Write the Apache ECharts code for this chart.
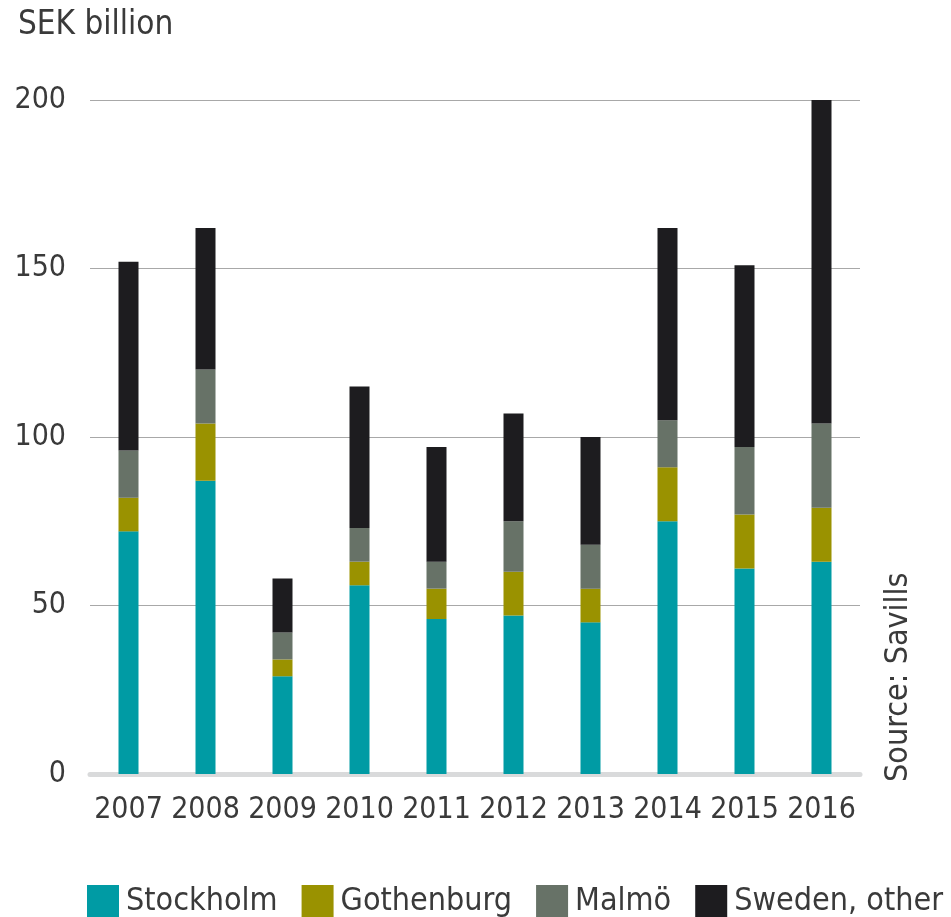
<!DOCTYPE html>
<html>
<head>
<meta charset="utf-8">
<script src="https://cdn.jsdelivr.net/npm/echarts@6/dist/echarts.min.js"></script>
<style>html,body{margin:0;padding:0;background:#fff}#c{width:951px;height:917px}</style>
</head>
<body>
<div id="c"></div>
<script>
const years = ['2007','2008','2009','2010','2011','2012','2013','2014','2015','2016'];
const stockholm = [72, 87, 29, 56, 46, 47, 45, 75, 61, 63];
const gothenburg = [10, 17, 5, 7, 9, 13, 10, 16, 16, 16];
const malmo = [14, 16, 8, 10, 8, 15, 13, 14, 20, 25];
const swedenOther = [56, 42, 16, 42, 34, 32, 32, 57, 54, 96];
const yTicks = [0, 50, 100, 150, 200];

const FONT = '"DejaVu Sans Condensed", "DejaVu Sans", sans-serif';
const TXT = '#3a3a3a';

const chart = echarts.init(document.getElementById('c'), null, {renderer: 'canvas'});
const mk = (name, data, color) => ({
  name, type: 'bar', stack: 'total', data, barWidth: 20,
  itemStyle: {color}, emphasis: {disabled: true}
});
chart.setOption({
  animation: false,
  grid: {left: 90, right: 91, top: 100, bottom: 143},
  legend: {
    left: 82, top: 880, itemWidth: 32, itemHeight: 33, itemGap: 24,
    icon: 'rect',
    textStyle: {fontFamily: FONT, fontSize: 32, color: TXT, padding: [0, 0, 0, 2]},
    data: ['Stockholm', 'Gothenburg', 'Malmö', 'Sweden, other']
  },
  xAxis: {
    type: 'category', data: years, offset: 2,
    axisLine: {lineStyle: {color: '#d9dadb', width: 5}},
    axisTick: {show: false},
    axisLabel: {fontFamily: FONT, fontSize: 30, color: TXT, margin: 19, interval: 0}
  },
  yAxis: {
    type: 'value', min: yTicks[0], max: yTicks[yTicks.length - 1], interval: 50,
    axisLine: {show: false}, axisTick: {show: false},
    splitLine: {lineStyle: {color: '#a8a8a8', width: 1}},
    axisLabel: {fontFamily: FONT, fontSize: 30, color: TXT, margin: 24}
  },
  graphic: [
    {type: 'text', left: 18, top: 9, style: {text: 'SEK billion', font: '33px ' + FONT, fill: TXT}},
    {type: 'text', x: 883, y: 782, rotation: Math.PI / 2,
     style: {text: 'Source: Savills', font: '32px ' + FONT, fill: TXT, textAlign: 'left', textVerticalAlign: 'top'}}
  ],
  series: [
    mk('Stockholm', stockholm, '#009ba4'),
    mk('Gothenburg', gothenburg, '#9a9200'),
    mk('Malmö', malmo, '#677267'),
    mk('Sweden, other', swedenOther, '#1d1c1f')
  ]
});
</script>
</body>
</html>
